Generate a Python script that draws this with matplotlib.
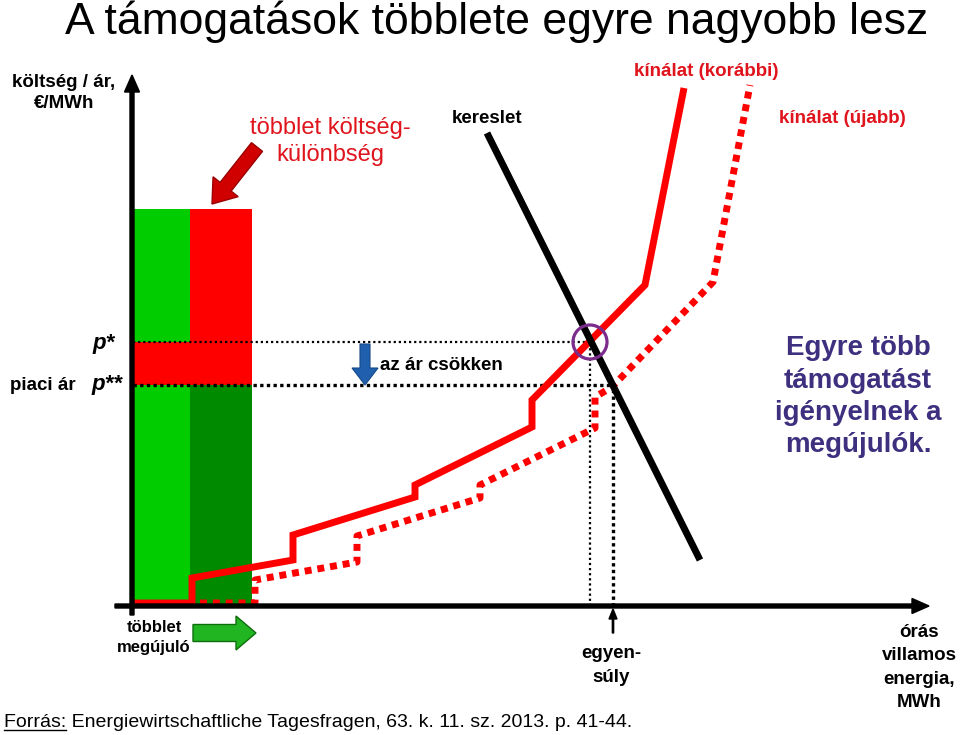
import matplotlib
matplotlib.use('Agg')
import matplotlib.pyplot as plt
from matplotlib.patches import Rectangle, Circle, FancyArrow

plt.rcParams['font.family'] = ['Liberation Sans', 'DejaVu Sans']

# ---- data (quantity, price) in chart units, origin at the axes crossing ----
old_supply_q = [0, 60, 60, 161, 161, 283, 283, 400, 400, 513, 552]
old_supply_p = [3, 3, 28, 46, 71, 109, 121, 179, 206, 321, 518]
new_supply_q = [68, 123, 123, 225, 225, 348, 348, 463, 463, 480, 581, 618]
new_supply_p = [3, 3, 26, 44, 70, 108, 121, 178, 209, 219, 324, 521]
demand_q = [355, 568]
demand_p = [473, 46]
eq_old_q, p_star = 458, 264
eq_new_q, p_star2 = 481, 221
bar_edges = [1, 58, 120]
cost_top = 397

RED = '#FF0000'
TXT_RED = '#E0141C'
LGREEN = '#00CC00'
DGREEN = '#008A00'
PURPLE_TXT = '#3E2F7F'

fig = plt.figure(figsize=(9.6, 7.35), dpi=100)
ax = fig.add_axes([0, 0, 1, 1])
ax.set_xlim(-132, 828)
ax.set_ylim(-129, 606)
ax.axis('off')


def P(x, y):
    """pixel position (from top-left) -> chart units"""
    return (x - 132, 606 - y)


# ---- bars (cost of renewables) ----
l, m, r = bar_edges
ax.add_patch(Rectangle((l, 0), m - l, p_star2, fc=LGREEN, ec='none', zorder=1))
ax.add_patch(Rectangle((m, 0), r - m, p_star2, fc=DGREEN, ec='none', zorder=1))
ax.add_patch(Rectangle((l, p_star2), r - l, p_star - p_star2, fc=RED, ec='none', zorder=1))
ax.add_patch(Rectangle((l, p_star), m - l, cost_top - p_star, fc=LGREEN, ec='none', zorder=1))
ax.add_patch(Rectangle((m, p_star), r - m, cost_top - p_star, fc=RED, ec='none', zorder=1))

# ---- dotted price / quantity guides ----
ax.plot([l, eq_old_q], [p_star, p_star], color='black', lw=1.6,
        linestyle=(0, (1, 1.3)), zorder=2)
ax.plot([eq_old_q, eq_old_q], [0, p_star], color='black', lw=1.6,
        linestyle=(0, (1, 1.3)), zorder=2)
ax.plot([l, eq_new_q], [p_star2, p_star2], color='black', lw=2.4,
        linestyle=(0, (1, 1.0)), zorder=2)
ax.plot([eq_new_q, eq_new_q], [0, p_star2], color='black', lw=2.4,
        linestyle=(0, (1, 1.0)), zorder=2)

# ---- curves ----
ax.plot(demand_q, demand_p, color='black', lw=5, solid_capstyle='butt', zorder=4)
ax.plot(old_supply_q, old_supply_p, color=RED, lw=5, solid_capstyle='butt',
        solid_joinstyle='miter', zorder=3)
ax.plot(new_supply_q, new_supply_p, color=RED, lw=5, linestyle=(0, (1, 0.85)),
        dash_capstyle='butt', zorder=3)

ax.add_patch(Circle((eq_old_q, p_star), 17, fill=False, ec='#7B2C8C', lw=2.3, zorder=5))

# ---- axes arrows ----
ax.add_patch(FancyArrow(0, -9, 0, 540, width=4, head_width=15, head_length=17,
                        length_includes_head=True, fc='black', ec='black', zorder=6))
ax.add_patch(FancyArrow(-17, 0, 814, 0, width=4, head_width=15, head_length=17,
                        length_includes_head=True, fc='black', ec='black', zorder=6))

# ---- decorative arrows ----
ax.add_patch(FancyArrow(125, 459, -45, -57, width=14, head_width=32, head_length=22,
                        length_includes_head=True, fc='#D00000', ec='#9A0000', lw=1, zorder=6))
ax.add_patch(FancyArrow(233, 262, 0, -41, width=10, head_width=26, head_length=17,
                        length_includes_head=True, fc='#1F5FAD', ec='#164A8A', lw=0.8, zorder=6))
ax.add_patch(FancyArrow(61, -27, 63, 0, width=17, head_width=34, head_length=20,
                        length_includes_head=True, fc='#22B522', ec='#0E6E0E', lw=1, zorder=6))
ax.add_patch(FancyArrow(eq_new_q, -27, 0, 24, width=1.3, head_width=8, head_length=10,
                        length_includes_head=True, fc='black', ec='black', zorder=6))

# ---- texts ----
ax.text(*P(497, 34), 'A támogatások többlete egyre nagyobb lesz', fontsize=32,
        ha='center', va='baseline')
ax.text(*P(64, 87), 'költség / ár,', fontsize=13.5, fontweight='bold', ha='center', va='baseline')
ax.text(*P(64, 108), '€/MWh', fontsize=13.5, fontweight='bold', ha='center', va='baseline')
ax.text(*P(330, 134), 'többlet költség-', fontsize=17, color=TXT_RED, ha='center', va='baseline')
ax.text(*P(330, 161), 'különbség', fontsize=17, color=TXT_RED, ha='center', va='baseline')
ax.text(*P(487, 123), 'kereslet', fontsize=13.5, fontweight='bold', ha='center', va='baseline')
ax.text(*P(706, 76), 'kínálat (korábbi)', fontsize=13.5, fontweight='bold', color=TXT_RED,
        ha='center', va='baseline')
ax.text(*P(842, 123), 'kínálat (újabb)', fontsize=13.5, fontweight='bold', color=TXT_RED,
        ha='center', va='baseline')
ax.text(*P(92, 349), 'p*', fontsize=16, fontweight='bold', fontstyle='italic', ha='left', va='baseline')
ax.text(*P(91, 390), 'p**', fontsize=16, fontweight='bold', fontstyle='italic', ha='left', va='baseline')
ax.text(*P(43, 390), 'piaci ár', fontsize=13.5, fontweight='bold', ha='center', va='baseline')
ax.text(*P(380, 370), 'az ár csökken', fontsize=13.5, fontweight='bold', ha='left', va='baseline')
for i, line in enumerate(['Egyre több', 'támogatást', 'igényelnek a', 'megújulók.']):
    ax.text(*P(858, 355 + 32.5 * i), line, fontsize=20, fontweight='bold', color=PURPLE_TXT,
            ha='center', va='baseline')
ax.text(*P(154, 632), 'többlet', fontsize=12, fontweight='bold', ha='center', va='baseline')
ax.text(*P(154, 652), 'megújuló', fontsize=12, fontweight='bold', ha='center', va='baseline')
ax.text(*P(611, 658), 'egyen-', fontsize=13.5, fontweight='bold', ha='center', va='baseline')
ax.text(*P(611, 682), 'súly', fontsize=13.5, fontweight='bold', ha='center', va='baseline')
for i, line in enumerate(['órás', 'villamos', 'energia,', 'MWh']):
    ax.text(*P(919, 637 + 23.3 * i), line, fontsize=13.5, fontweight='bold',
            ha='center', va='baseline')

src_pos = P(4, 727)
ax.text(*src_pos, 'Forrás: Energiewirtschaftliche Tagesfragen, 63. k. 11. sz. 2013. p. 41-44.',
        fontsize=14, ha='left', va='baseline')
tmp = ax.text(*src_pos, 'Forrás:', fontsize=14, ha='left', va='baseline', alpha=0)
fig.canvas.draw()
bb = tmp.get_window_extent()
tmp.remove()
x0 = src_pos[0]
x1 = x0 + bb.width
ax.plot([x0, x1], [src_pos[1] - 3, src_pos[1] - 3], color='black', lw=1)

fig.savefig('out.png', dpi=100)
